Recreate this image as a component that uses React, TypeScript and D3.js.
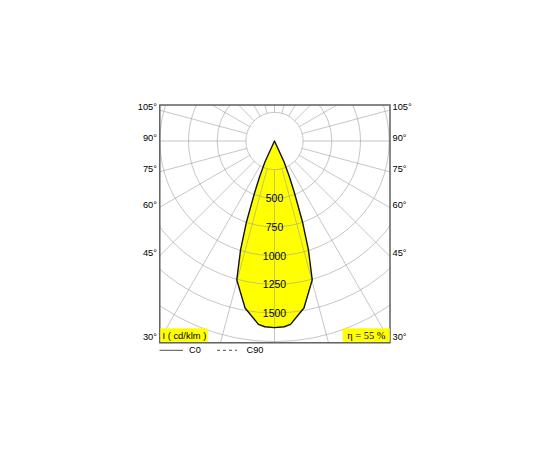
import React from 'react';
import * as d3 from 'd3';

// candela values, gamma in degrees
const gammaC0 = [0, 3, 5, 10, 15.2, 17.3, 19.1, 21, 22.6, 24.6, 27];
const intensityC0 = [1628, 1622, 1605, 1479, 1255, 995, 745, 488, 340, 199, 0];
const ringValues = [250, 500, 750, 1000, 1250, 1500, 1750];
const ringLabels = [500, 750, 1000, 1250, 1500];
const spokeAngles = [0, 15, 30, 45, 60, 75, 90, 105, 120, 135, 150, 165, 180];
const angleLabels = [30, 45, 60, 75, 90, 105];

const W = 550;
const H = 450;
const cx = 274.5;
const cy = 141;
const box = { left: 159.8, right: 390, top: 105, bottom: 342.8 };
const font = '"Liberation Sans", Arial, sans-serif';

const r = d3.scaleLinear().domain([0, 1500]).range([0, 172]);

export default function App() {
  // mirror the C0 half so the curve closes around the 0 degree axis
  const half = gammaC0.map((g, i) => [g, intensityC0[i]] as [number, number]);
  const curve = [...half.slice().reverse().map(([g, v]) => [-g, v] as [number, number]), ...half.slice(1)];
  const shape = d3.lineRadial<[number, number]>()
    .angle(d => Math.PI - (d[0] * Math.PI) / 180)
    .radius(d => r(d[1]))
    .curve(d3.curveLinearClosed);

  const spokes = spokeAngles.flatMap(a => (a === 0 || a === 180 ? [a] : [a, -a]));
  const rIn = r(250);
  const rOut = 300;

  return (
    <svg
      width={W}
      height={H}
      viewBox={`0 0 ${W} ${H}`}
      style={{ position: 'absolute', left: 0, top: 0, fontFamily: font }}
    >
      <defs>
        <clipPath id="plot">
          <rect x={box.left} y={box.top} width={box.right - box.left} height={box.bottom - box.top} />
        </clipPath>
      </defs>
      <rect width={W} height={H} fill="#fff" />

      <g clipPath="url(#plot)">
        <g transform={`translate(${cx},${cy})`}>
          <path d={shape(curve) || ''} fill="#ffff00" />
          {ringValues.map(v => (
            <circle key={v} r={r(v)} fill="none" stroke="#a0a0a0" strokeWidth={0.6} />
          ))}
          {spokes.map(a => {
            const t = (a * Math.PI) / 180;
            return (
              <line
                key={a}
                x1={Math.sin(t) * rIn}
                y1={Math.cos(t) * rIn}
                x2={Math.sin(t) * rOut}
                y2={Math.cos(t) * rOut}
                stroke="#a0a0a0"
                strokeWidth={0.6}
              />
            );
          })}
          <path d={shape(curve) || ''} fill="none" stroke="#111" strokeWidth={1.4} strokeLinejoin="round" />
        </g>
      </g>

      <rect
        x={box.left}
        y={box.top}
        width={box.right - box.left}
        height={box.bottom - box.top}
        fill="none"
        stroke="#555"
        strokeWidth={1.4}
      />

      {ringLabels.map(v => (
        <text key={v} x={cx} y={cy + r(v) + 4} textAnchor="middle" fontSize={10.5} fill="#000">
          {v}
        </text>
      ))}

      {angleLabels.map(a => {
        const t = ((a - 90) * Math.PI) / 180;
        const y = Math.min(cy - Math.tan(t) * 115 - 3, 338);
        return (
          <g key={a} fontSize={9.3} fill="#000">
            <text x={157} y={y + 3.3} textAnchor="end">{a}°</text>
            <text x={392.5} y={y + 3.3}>{a}°</text>
          </g>
        );
      })}

      <rect x={160.4} y={328.3} width={47.3} height={13.5} fill="#ffff00" />
      <text x={162.5} y={339} fontSize={9.4} fill="#000">I ( cd/klm )</text>
      <rect x={342.7} y={328.3} width={47} height={13.5} fill="#ffff00" />
      <text x={347.3} y={339} fontSize={10.4} fill="#000" fontFamily='"Liberation Serif", serif'>η = 55 %</text>

      <line x1={159.5} x2={183} y1={350.3} y2={350.3} stroke="#222" strokeWidth={0.8} />
      <text x={189} y={353} fontSize={9.2} fill="#000">C0</text>
      <line x1={217} x2={237} y1={350.3} y2={350.3} stroke="#222" strokeWidth={0.8} strokeDasharray="3 3" />
      <text x={246.5} y={353} fontSize={9.2} fill="#000">C90</text>
    </svg>
  );
}
